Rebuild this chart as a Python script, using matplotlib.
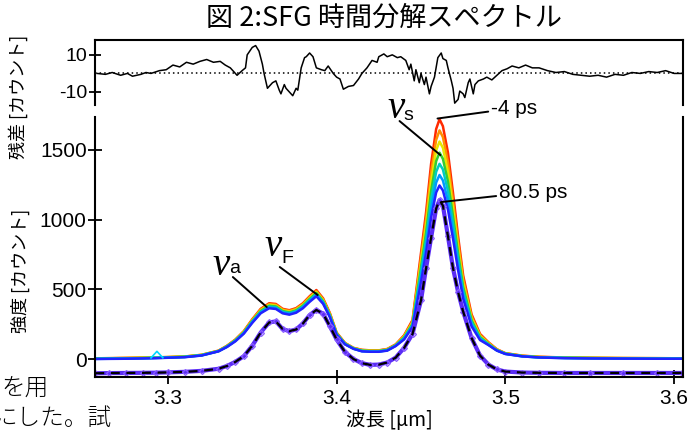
import matplotlib
matplotlib.use("Agg")
import matplotlib.pyplot as plt

plt.rcParams["font.family"] = ["Liberation Sans", "DejaVu Sans"]
CJK = ["Noto Sans CJK JP", "DejaVu Sans"]

W, H = 695, 430

# ---- data ----
wavelength = [3.257, 3.265, 3.275, 3.285, 3.293, 3.30, 3.31, 3.32,
              3.33, 3.335, 3.34, 3.345, 3.35, 3.355, 3.36, 3.364, 3.368, 3.372, 3.376,
              3.38, 3.384, 3.388, 3.392, 3.396, 3.40, 3.405, 3.41,
              3.415, 3.42, 3.425, 3.43, 3.435,
              3.44, 3.445, 3.45, 3.453, 3.456, 3.459, 3.461, 3.463, 3.466, 3.469,
              3.472, 3.475, 3.48, 3.485, 3.49,
              3.495, 3.50, 3.51, 3.52, 3.535, 3.55, 3.57, 3.59, 3.605]

spec_m4ps = [5, 6, 8, 10, 12, 14, 18, 30,
             60, 95, 140, 200, 285, 360, 400, 395, 360, 350, 365, 400, 450, 495, 435, 330, 190, 115, 80,
             66, 62, 62, 72, 105,
             170, 280, 760, 1050, 1400, 1650, 1720, 1670, 1480, 1190, 880, 600, 320, 180, 120,
             70, 42, 24, 16, 11, 9, 7, 6, 5]
spec_2 = [4, 5, 7, 9, 11, 13, 17, 29,
          59, 94, 138, 197, 281, 355, 394, 389, 355, 345, 360, 394, 443, 488, 428, 325, 187, 113, 79,
          64, 60, 60, 70, 102,
          165, 270, 725, 1000, 1335, 1572, 1640, 1592, 1410, 1134, 840, 572, 305, 172, 116,
          68, 41, 23, 15, 10, 8, 6, 5, 4]
spec_3 = [5, 6, 7, 9, 11, 14, 18, 30,
          58, 92, 136, 194, 276, 349, 388, 383, 349, 340, 354, 388, 437, 480, 422, 320, 184, 112, 78,
          62, 59, 59, 68, 100,
          160, 262, 690, 952, 1270, 1497, 1560, 1515, 1342, 1080, 798, 545, 292, 165, 112,
          66, 40, 22, 14, 10, 8, 7, 6, 5]
spec_4 = [3, 4, 5, 7, 9, 12, 16, 28,
          57, 91, 134, 191, 272, 344, 382, 377, 344, 334, 349, 382, 430, 473, 415, 315, 181, 110, 76,
          60, 57, 57, 66, 98,
          155, 252, 655, 903, 1204, 1419, 1480, 1436, 1273, 1023, 757, 516, 277, 157, 108,
          64, 39, 21, 13, 9, 7, 5, 4, 4]
spec_5 = [2, 3, 4, 6, 9, 11, 15, 27,
          56, 89, 132, 188, 268, 338, 376, 371, 338, 329, 343, 376, 423, 465, 409, 310, 179, 108, 75,
          58, 55, 55, 64, 97,
          150, 245, 620, 855, 1140, 1343, 1400, 1360, 1205, 969, 716, 488, 263, 150, 105,
          63, 38, 20, 12, 8, 6, 4, 3, 3]
spec_6 = [1, 2, 3, 5, 7, 10, 14, 26,
          56, 88, 130, 185, 264, 333, 370, 365, 333, 324, 338, 370, 416, 458, 402, 305, 176, 106, 74,
          56, 53, 53, 62, 95,
          145, 238, 585, 805, 1074, 1266, 1320, 1281, 1135, 913, 675, 460, 248, 143, 102,
          61, 37, 19, 11, 7, 5, 3, 2, 2]
spec_805ps = [0, 1, 2, 4, 6, 9, 13, 25,
              55, 86, 127, 182, 259, 328, 364, 359, 328, 318, 332, 364, 410, 450, 396, 300, 173, 105, 73,
              55, 52, 52, 60, 93,
              140, 230, 550, 760, 1014, 1195, 1245, 1209, 1071, 862, 637, 434, 234, 136, 100,
              60, 36, 19, 11, 6, 4, 3, 2, 2]
rainbow = [spec_m4ps, spec_2, spec_3, spec_4, spec_5, spec_6, spec_805ps]
rainbow_colors = ["#ff2a00", "#ff9000", "#e6e600", "#33cc33", "#00ccc0", "#0099ff", "#2222ff"]

# cyan glitch near 3.29 um
glitch_x = [3.290, 3.2935, 3.297]
glitch_y = [8, 55, 9]

# offset 80.5 ps data (markers) and its fit (dashed)
lower = [-102, -101, -100, -99, -98, -96, -92, -85,
         -70, -50, -20, 20, 95, 190, 262, 270, 215, 200, 212, 255, 315, 352, 325, 235, 140, 50, 0,
         -30, -42, -40, -25, 10,
         80, 180, 420, 650, 870, 1080, 1140, 1100, 880, 650, 480, 340, 150, 25, -40,
         -75, -90, -97, -99, -100, -100, -100, -100, -100]

res_x = [3.258, 3.263, 3.267, 3.272, 3.276, 3.279, 3.284, 3.287, 3.290, 3.295, 3.299,
         3.303, 3.307, 3.311, 3.315, 3.319, 3.323, 3.327, 3.331, 3.334, 3.337, 3.339,
         3.341, 3.344, 3.346, 3.347, 3.350, 3.352, 3.354, 3.356, 3.357, 3.359, 3.362,
         3.364, 3.366, 3.367, 3.369, 3.370, 3.372, 3.374, 3.376, 3.377, 3.379, 3.381,
         3.382, 3.384, 3.386, 3.388, 3.391, 3.393, 3.395, 3.398, 3.400, 3.402, 3.404,
         3.407, 3.410, 3.413, 3.415, 3.418, 3.421, 3.424, 3.425, 3.428, 3.430, 3.433,
         3.436, 3.438, 3.441, 3.443, 3.444, 3.446, 3.447, 3.449, 3.450, 3.452, 3.453,
         3.455, 3.456, 3.458, 3.460, 3.462, 3.463, 3.465, 3.466, 3.468, 3.469, 3.470,
         3.472, 3.473, 3.475, 3.476, 3.478, 3.479, 3.481, 3.482, 3.484, 3.487, 3.489,
         3.492, 3.495, 3.498, 3.501, 3.504, 3.508, 3.512, 3.516, 3.520, 3.525, 3.530,
         3.535, 3.540, 3.545, 3.550, 3.555, 3.560, 3.565, 3.570, 3.575, 3.580, 3.585,
         3.590, 3.595, 3.600, 3.605]
res_y = [0, -0.5, 0.5, -1, 0, -1.5, -0.5, 0.5, 0, 1.5, 2,
         4.5, 3.5, 6, 5, 6.5, 7.5, 6, 6.5, 4.5, 3, 1,
         -1, 1.5, 3, 10, 14, 15, 12, 5, 0, -8, -5,
         -4, -9, -11, -6, -8, -10, -12, -8, -9, 3, 8.5,
         9, 11, 9, 3, 2, 1.5, 4, 0, -2, -3, -8.5,
         -7, -6.5, -3, 0, 3, 7, 6, 9, 10.5, 9, 10,
         8.5, 9, 7, 2, 5, -4, 2, -5, 0, -6, -2,
         -11, -7, -2, 8.5, 11, 8, 7, 3, -4, -8, -16,
         -14, -9.5, -11, -13, -5, -3, -11, -6, -4, -3, -2,
         -3.5, -1, 1.5, 2.5, 4, 3, 4.5, 3, 3, 1.5, 0.5,
         1, -0.5, -1, -1.5, -1, -2, -0.5, -1, 0.5, 0, 1,
         0.5, 1.5, 0, 0]

xlim = (3.2568, 3.6053)
xticks = [3.3, 3.4, 3.5, 3.6]
yticks = [0, 500, 1000, 1500]
res_ticks = [-10, 10]

fig = plt.figure(figsize=(W / 100, H / 100), dpi=100)


def px_axes(l, t, r, b):
    return fig.add_axes([l / W, 1 - b / H, (r - l) / W, (b - t) / H])


# ---- residual panel ----
ax_r = px_axes(95, 40, 683, 105)
ax_r.plot(res_x, res_y, color="black", lw=1.1)
ax_r.axhline(0, color="black", lw=1.1, ls=(0, (1, 2)))
ax_r.set_xlim(xlim)
ax_r.set_ylim(-17, 18)
ax_r.set_xticks([])
ax_r.set_yticks(res_ticks)
ax_r.set_yticklabels(["-10", "10"])
ax_r.spines["bottom"].set_visible(False)
for s in ["top", "left", "right"]:
    ax_r.spines[s].set_linewidth(1.5)
ax_r.tick_params(axis="y", direction="inout", length=9, width=1.3, labelsize=14, pad=1)

# ---- spectra panel ----
ax = px_axes(95, 117, 683, 377)
for spec, c in zip(rainbow, rainbow_colors):
    ax.plot(wavelength, spec, color=c, lw=1.8)
ax.plot(glitch_x, glitch_y, color="#00d8ff", lw=1.2)
ax.plot(wavelength, lower, color="#5a2cf5", lw=3)
ax.plot(wavelength, lower, ls="none", marker="D", ms=3, mfc="none",
        mec="#8a5cff", mew=0.9)
ax.plot(wavelength, lower, color="black", lw=1.6, ls=(0, (4, 3)))

ax.set_xlim(xlim)
ax.set_ylim(-129, 1736)
ax.set_xticks(xticks)
ax.set_xticklabels([f"{t:.1f}" for t in xticks])
ax.set_yticks(yticks)
ax.spines["top"].set_visible(False)
for s in ["bottom", "left", "right"]:
    ax.spines[s].set_linewidth(1.5)
ax.tick_params(direction="inout", length=10, width=1.3, labelsize=15)
ax.tick_params(axis="y", pad=1)
ax.tick_params(axis="x", pad=4)

# annotation pointers
line_kw = dict(arrowprops=dict(arrowstyle="-", color="black", lw=1.4,
                               shrinkA=0, shrinkB=0))
ax.annotate("-4 ps", xy=(3.4598, 1725), xytext=(3.4915, 1800),
            fontsize=15, va="center", ha="left", **line_kw)
ax.annotate("80.5 ps", xy=(3.4621, 1126), xytext=(3.4962, 1198),
            fontsize=15, va="center", ha="left", **line_kw)
ax.annotate("", xy=(3.4615, 1463), xytext=(3.4373, 1707), **line_kw)
ax.annotate("", xy=(3.3888, 459), xytext=(3.3663, 660), **line_kw)
ax.annotate("", xy=(3.3586, 373), xytext=(3.3385, 588), **line_kw)

nu_kw = dict(family="Liberation Serif", style="italic", fontsize=28,
             ha="right", va="baseline")
for nx, ny, sub, sy in [(3.4402, 1729, "s", 1712),
                        (3.3675, 739, "F", 689),
                        (3.3367, 600, "a", 620)]:
    ax.text(nx, ny, "ν", **nu_kw)
    ax.text(nx - 0.0005, sy, sub, fontsize=14, ha="left", va="baseline")

# ---- figure texts ----
fig.text(384 / W, 1 - 18 / H, "図 2:SFG 時間分解スペクトル", family=CJK,
         fontsize=19.5, ha="center", va="center")
fig.text(18 / W, 1 - 97 / H, "残差 [カウント]", family=CJK, fontsize=13,
         rotation=90, ha="center", va="center")
fig.text(20 / W, 1 - 271 / H, "強度 [カウント]", family=CJK, fontsize=13,
         rotation=90, ha="center", va="center")
fig.text(389 / W, 1 - 420 / H, "波長 [μm]", family=CJK, fontsize=14,
         ha="center", va="center")
fig.text(49 / W, 1 - 388 / H, "を用", family=CJK, fontsize=17,
         ha="right", va="center", weight="light")
fig.text(112 / W, 1 - 418 / H, "にした。試", family=CJK, fontsize=17,
         ha="right", va="center", weight="light")

fig.savefig("out.png", dpi=100)
